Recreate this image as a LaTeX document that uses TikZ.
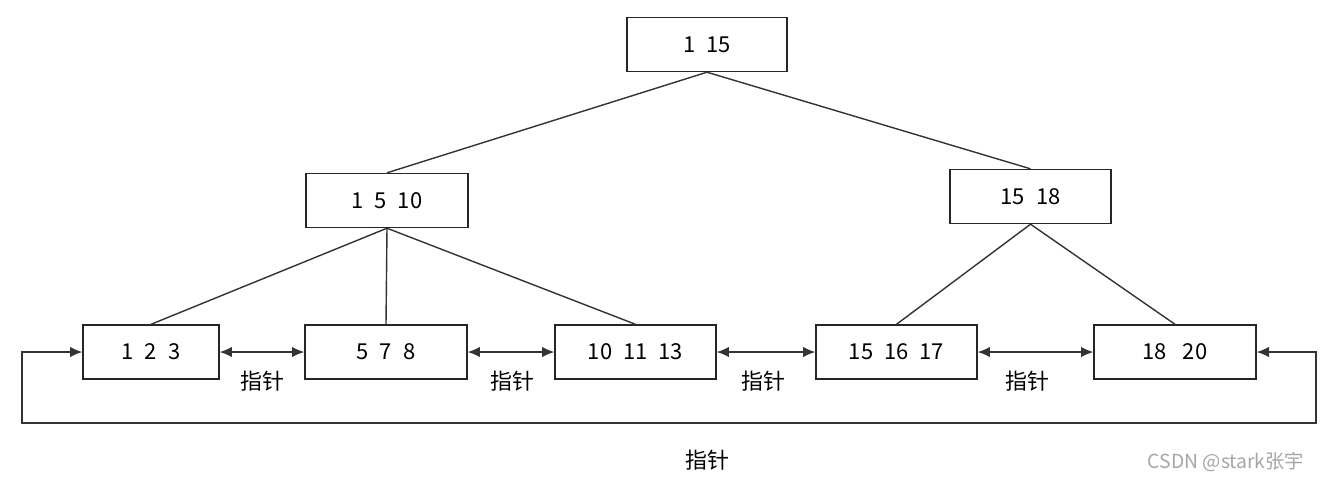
\documentclass[tikz,border=0pt]{standalone}
\usepackage{fontspec}
\setmainfont{Noto Sans CJK SC}
\usetikzlibrary{arrows.meta}
\begin{document}
\begin{tikzpicture}[x=0.02cm,y=-0.02cm,
  box/.style={draw=black!85,line width=0.8pt,minimum height=1.08cm,inner sep=0pt,font=\fontsize{12.5}{14}\selectfont},
  ln/.style={draw=black!80,line width=0.8pt},
  arr/.style={ln,{Latex[length=7pt,width=6pt]}-{Latex[length=7pt,width=6pt]}},
  lbl/.style={font=\fontsize{12.5}{14}\selectfont}]
\useasboundingbox (0,0) rectangle (1332,485);
\node[box,minimum width=3.2cm] (r) at (707,44.5) {1\enspace 15};
\node[box,minimum width=3.24cm] (m1) at (387,200.5) {1\enspace 5\enspace 10};
\node[box,minimum width=3.22cm] (m2) at (1030.5,196.5) {15\enspace 18};
\node[box,minimum width=2.72cm] (a) at (151,352) {1\enspace 2\enspace 3};
\node[box,minimum width=3.24cm] (b) at (386,352) {5\enspace 7\enspace 8};
\node[box,minimum width=3.22cm] (c) at (635.5,352) {10\enspace 11\enspace 13};
\node[box,minimum width=3.22cm] (d) at (896.5,352) {15\enspace 16\enspace 17};
\node[box,minimum width=3.24cm] (e) at (1175,352) {18\enspace\ 20};
\draw[ln] (r.south) -- (m1.north);
\draw[ln] (r.south) -- (m2.north);
\draw[ln] (m1.south) -- (a.north);
\draw[ln] (m1.south) -- (b.north);
\draw[ln] (m1.south) -- (c.north);
\draw[ln] (m2.south) -- (d.north);
\draw[ln] (m2.south) -- (e.north);
\draw[arr] (a.east) -- (b.west);
\draw[arr] (b.east) -- (c.west);
\draw[arr] (c.east) -- (d.west);
\draw[arr] (d.east) -- (e.west);
\node[lbl] (p1) at (262,381) {指针};
\node[lbl] (p2) at (512,381) {指针};
\node[lbl] (p3) at (763,381) {指针};
\node[lbl] (p4) at (1027,381) {指针};
\coordinate (c1) at (22,352);
\coordinate (c2) at (22,423);
\coordinate (c3) at (1316,423);
\coordinate (c4) at (1316,352);
\draw[ln,{Latex[length=7pt,width=6pt]}-{Latex[length=7pt,width=6pt]}] (a.west) -- (c1) -- (c2) -- (c3) -- (c4) -- (e.east);
\node[lbl] (p5) at (707,460) {指针};
\node[font=\fontsize{11}{13}\selectfont,text=black!35] (wm) at (1226,462) {CSDN @stark张宇};
\end{tikzpicture}
\end{document}
